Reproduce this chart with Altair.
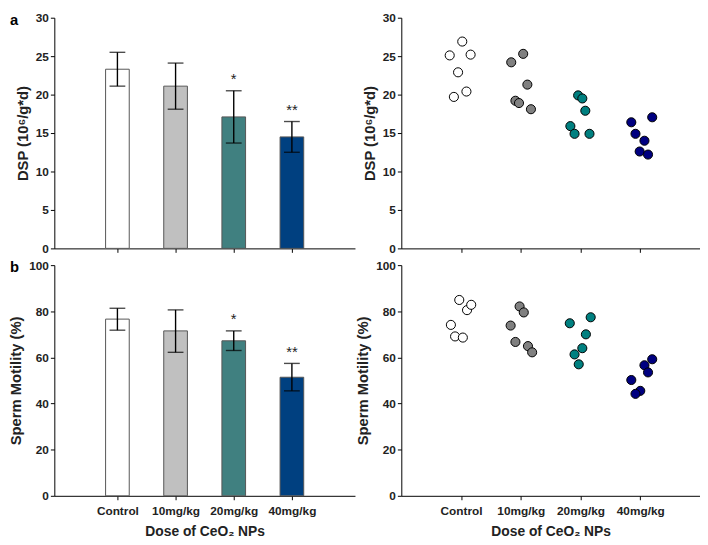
import altair as alt
import pandas as pd

categories = ["Control", "10mg/kg", "20mg/kg", "40mg/kg"]
bar_colors = ["#ffffff", "#c0c0c0", "#408080", "#004080"]
dot_colors = ["#ffffff", "#808080", "#008080", "#000080"]
stars = ["", "", "*", "**"]

dsp_mean = [23.3, 21.1, 17.1, 14.5]
dsp_lo = [21.1, 18.1, 13.7, 12.5]
dsp_hi = [25.5, 24.1, 20.5, 16.5]

mot_mean = [76.6, 71.5, 67.2, 51.4]
mot_lo = [71.8, 62.2, 63.0, 45.5]
mot_hi = [81.3, 80.6, 71.5, 57.4]

# individual points (value, horizontal jitter in category units)
dsp_control = [25.1, 26.9, 25.2, 22.9, 19.7, 20.4]
dsp_control_dx = [-0.19, 0.02, 0.16, -0.05, -0.12, 0.09]
dsp_10 = [24.2, 25.3, 21.3, 19.2, 18.9, 18.1]
dsp_10_dx = [-0.16, 0.04, 0.11, -0.09, -0.03, 0.17]
dsp_20 = [19.9, 19.5, 17.9, 15.9, 14.9, 14.9]
dsp_20_dx = [-0.04, 0.03, 0.08, -0.17, -0.10, 0.15]
dsp_40 = [16.4, 17.05, 14.9, 14.0, 12.6, 12.2]
dsp_40_dx = [-0.15, 0.20, -0.08, 0.07, -0.01, 0.13]

mot_control = [84.9, 80.5, 82.8, 74.1, 69.1, 68.6]
mot_control_dx = [-0.03, 0.10, 0.17, -0.17, -0.10, 0.03]
mot_10 = [82.1, 79.5, 73.8, 66.7, 64.9, 62.2]
mot_10_dx = [-0.02, 0.05, -0.17, -0.09, 0.12, 0.19]
mot_20 = [74.8, 77.4, 70.0, 64.0, 61.3, 57.0]
mot_20_dx = [-0.18, 0.17, 0.09, 0.03, -0.10, -0.03]
mot_40 = [50.2, 59.2, 56.6, 53.5, 45.5, 44.2]
mot_40_dx = [-0.15, 0.20, 0.07, 0.13, 0.00, -0.08]

FONT = "Liberation Sans"
label_expr = "[" + ",".join("'" + c + "'" for c in [""] + categories) + "][datum.value]"


def bar_df(mean, lo, hi):
    return pd.DataFrame({
        "idx": [1, 2, 3, 4], "cat": categories, "mean": mean,
        "lo": lo, "hi": hi, "star": stars,
    })


def pts_df(groups):
    rows = []
    for i, (vals, dxs) in enumerate(groups):
        for v, d in zip(vals, dxs):
            rows.append({"cat": categories[i], "x": i + 1 + d, "v": v})
    return pd.DataFrame(rows)


def x_enc(show_labels):
    return alt.X(
        "x:Q",
        scale=alt.Scale(domain=[0, 5], nice=False, zero=False),
        axis=alt.Axis(
            values=[1, 2, 3, 4], labelExpr=label_expr, labels=show_labels,
            title="Dose of CeO\u2082 NPs" if show_labels else None,
            grid=False, labelAngle=0, labelPadding=6, titlePadding=8,
        ),
    )


def y_enc(field, domain, step, title):
    return alt.Y(
        field + ":Q",
        scale=alt.Scale(domain=domain, nice=False),
        axis=alt.Axis(values=list(range(domain[0], domain[1] + 1, step)),
                      title=title, grid=False, titlePadding=5, labelOverlap=False,
                      titleFontSize=15),
    )


def panel_label(letter):
    return alt.Chart(pd.DataFrame({"t": [letter]})).mark_text(
        font=FONT, fontWeight="bold", fontSize=15, align="left", baseline="middle"
    ).encode(text="t:N", x=alt.value(-45), y=alt.value(2))


def bar_panel(mean, lo, hi, domain, step, title, show_labels, letter):
    df = bar_df(mean, lo, hi)
    base = alt.Chart(df).transform_calculate(x="datum.idx")
    color = alt.Color("cat:N", scale=alt.Scale(domain=categories, range=bar_colors), legend=None)
    xq = x_enc(show_labels)
    bars = base.mark_bar(size=24, stroke="#555555", strokeWidth=1).encode(
        x=xq, y=y_enc("mean", domain, step, title), color=color)
    rule = base.mark_rule(color="black", strokeWidth=1.4).encode(
        x=xq, y=y_enc("lo", domain, step, title), y2="hi:Q")
    tlo = base.mark_tick(orient="horizontal", size=16, thickness=1.4, color="black").encode(
        x=xq, y=y_enc("lo", domain, step, title))
    thi = base.mark_tick(orient="horizontal", size=16, thickness=1.4, color="black").encode(
        x=xq, y=y_enc("hi", domain, step, title))
    st = base.mark_text(font=FONT, fontSize=15, baseline="bottom", dy=-4, color="#222").encode(
        x=xq, y=y_enc("hi", domain, step, title), text="star:N")
    return alt.layer(bars, rule, tlo, thi, st, panel_label(letter)).properties(width=305, height=234)


def dot_panel(groups, domain, step, title, show_labels):
    df = pts_df(groups)
    return alt.Chart(df).mark_circle(size=85, stroke="black", strokeWidth=1, opacity=1).encode(
        x=x_enc(show_labels), y=y_enc("v", domain, step, title),
        color=alt.Color("cat:N", scale=alt.Scale(domain=categories, range=dot_colors), legend=None),
    ).properties(width=303, height=234)


dsp_title = "DSP (10\u2076/g*d)"
mot_title = "Sperm Motility (%)"

tl = bar_panel(dsp_mean, dsp_lo, dsp_hi, [0, 30], 5, dsp_title, False, "a")
tr = dot_panel([(dsp_control, dsp_control_dx), (dsp_10, dsp_10_dx),
                (dsp_20, dsp_20_dx), (dsp_40, dsp_40_dx)], [0, 30], 5, dsp_title, False)
bl = bar_panel(mot_mean, mot_lo, mot_hi, [0, 100], 20, mot_title, True, "b")
br = dot_panel([(mot_control, mot_control_dx), (mot_10, mot_10_dx),
                (mot_20, mot_20_dx), (mot_40, mot_40_dx)], [0, 100], 20, mot_title, True)

chart = alt.concat(
    tl, tr, bl, br, columns=2, spacing={"row": 17, "column": 47}, bounds="flush",
).resolve_scale(color="independent", x="independent", y="independent").properties(
    padding={"top": 0, "left": 0, "right": 0, "bottom": 0},
    autosize=alt.AutoSizeParams(type="pad"),
).configure_view(stroke=None).configure_axis(
    labelFont=FONT, titleFont=FONT, labelFontWeight="bold", titleFontWeight="bold",
    labelFontSize=12, titleFontSize=14, labelColor="#222", titleColor="#222",
    domainColor="black", tickColor="black", tickSize=4, domainWidth=1,
)

chart.save("out.html", embed_options={"renderer": "svg", "actions": False})
